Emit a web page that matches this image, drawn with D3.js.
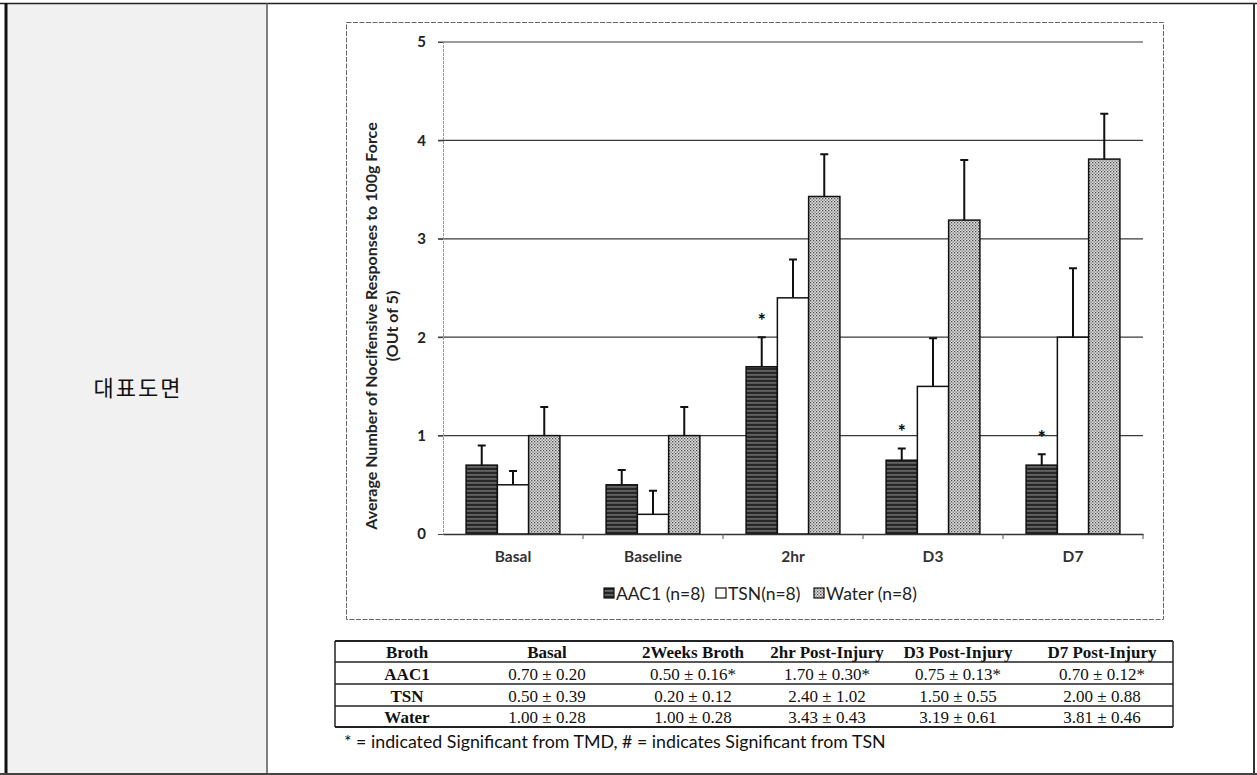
<!DOCTYPE html>
<html><head><meta charset="utf-8">
<script src="https://cdn.jsdelivr.net/npm/d3@7"></script>
<style>html,body{margin:0;padding:0;background:#fff;}svg{display:block;}</style>
</head><body>
<svg id="c" width="1257" height="775"></svg>
<script>
// ---- data ----
const categories = ["Basal", "Baseline", "2hr", "D3", "D7"];
const seriesNames = ["AAC1 (n=8)", "TSN(n=8)", "Water (n=8)"];
const aac1 = [0.70, 0.50, 1.70, 0.75, 0.70];
const tsn = [0.50, 0.20, 2.40, 1.50, 2.00];
const water = [1.00, 1.00, 3.43, 3.19, 3.81];
const aac1Err = [0.20, 0.15, 0.30, 0.12, 0.11];
const tsnErr = [0.14, 0.24, 0.39, 0.49, 0.70];
const waterErr = [0.29, 0.29, 0.43, 0.61, 0.46];
const aac1Significant = [false, false, true, true, true];
const yTicks = [0, 1, 2, 3, 4, 5];
const yLabelLines = ["Average Number of Nocifensive Responses to 100g Force", "(OUt of 5)"];
const sideLabel = "대표도면";
const tableHeader = ["Broth", "Basal", "2Weeks Broth", "2hr Post-Injury", "D3 Post-Injury", "D7 Post-Injury"];
const tableAAC1 = ["AAC1", "0.70 ± 0.20", "0.50 ± 0.16*", "1.70 ± 0.30*", "0.75 ± 0.13*", "0.70 ± 0.12*"];
const tableTSN = ["TSN", "0.50 ± 0.39", "0.20 ± 0.12", "2.40 ± 1.02", "1.50 ± 0.55", "2.00 ± 0.88"];
const tableWater = ["Water", "1.00 ± 0.28", "1.00 ± 0.28", "3.43 ± 0.43", "3.19 ± 0.61", "3.81 ± 0.46"];
const footnote = "* = indicated Significant from TMD, # = indicates Significant from TSN";

const series = [
  {name: seriesNames[0], values: aac1, err: aac1Err, fill: "url(#pAAC1)"},
  {name: seriesNames[1], values: tsn, err: tsnErr, fill: "#fff"},
  {name: seriesNames[2], values: water, err: waterErr, fill: "url(#pWater)"}
];

const svg = d3.select("#c");
const defs = svg.append("defs");
const p1 = defs.append("pattern").attr("id", "pAAC1").attr("patternUnits", "userSpaceOnUse")
  .attr("width", 8).attr("height", 4);
p1.append("rect").attr("width", 8).attr("height", 4).attr("fill", "#262626");
p1.append("rect").attr("y", 2.5).attr("width", 8).attr("height", 0.9).attr("fill", "#a0a0a0");
const p2 = defs.append("pattern").attr("id", "pWater").attr("patternUnits", "userSpaceOnUse")
  .attr("width", 3).attr("height", 3);
p2.append("rect").attr("width", 3).attr("height", 3).attr("fill", "#e0e0e0");
p2.append("rect").attr("x", 0).attr("y", 0).attr("width", 1.3).attr("height", 1.3).attr("fill", "#4a4a4a");
p2.append("rect").attr("x", 1.5).attr("y", 1.5).attr("width", 1.3).attr("height", 1.3).attr("fill", "#6a6a6a");

// ---- outer frame ----
svg.append("rect").attr("x", 7).attr("y", 4).attr("width", 259).attr("height", 769).attr("fill", "#f1f1f1");
svg.append("line").attr("x1", 0).attr("x2", 1257).attr("y1", 3.5).attr("y2", 3.5).attr("stroke", "#222").attr("stroke-width", 1.5);
svg.append("line").attr("x1", 6).attr("x2", 6).attr("y1", 3).attr("y2", 775).attr("stroke", "#111").attr("stroke-width", 3);
svg.append("line").attr("x1", 267).attr("x2", 267).attr("y1", 3).attr("y2", 775).attr("stroke", "#555").attr("stroke-width", 1.5);
svg.append("line").attr("x1", 1254).attr("x2", 1254).attr("y1", 3).attr("y2", 775).attr("stroke", "#333").attr("stroke-width", 2);
svg.append("line").attr("x1", 0).attr("x2", 1257).attr("y1", 774).attr("y2", 774).attr("stroke", "#444").attr("stroke-width", 2);

svg.append("text").attr("x", 138).attr("y", 386).attr("text-anchor", "middle").attr("dominant-baseline", "central")
  .attr("font-family", "'Noto Sans CJK KR'").attr("font-size", 22).attr("letter-spacing", 2)
  .attr("fill", "#111").text(sideLabel);

// ---- chart box ----
svg.append("rect").attr("x", 346.5).attr("y", 22.5).attr("width", 817).attr("height", 597)
  .attr("fill", "none").attr("stroke", "#666").attr("stroke-width", 1).attr("stroke-dasharray", "5 1.5");

const plotL = 443, plotR = 1143, plotT = 42, plotB = 534;
const y = d3.scaleLinear().domain([0, 5]).range([plotB, plotT]);
const x = d3.scaleBand().domain(categories).range([plotL, plotR]).paddingInner(0.33).paddingOuter(0.165);
const xs = d3.scaleBand().domain(seriesNames).range([0, x.bandwidth()]);

// gridlines
svg.append("g").selectAll("line").data(yTicks.filter(t => t > 0)).join("line")
  .attr("x1", plotL - 5).attr("x2", plotR).attr("y1", d => y(d)).attr("y2", d => y(d))
  .attr("stroke", "#3a3a3a").attr("stroke-width", 1.2);
// y axis
const yAxis = d3.axisLeft(y).tickValues(yTicks).tickFormat(d3.format("d")).tickSize(5).tickPadding(12);
const ya = svg.append("g").attr("transform", `translate(${plotL},0)`).call(yAxis);
ya.select(".domain").attr("stroke", "#999").attr("stroke-dasharray", "3 1");
ya.selectAll(".tick line").attr("stroke", "#444");
ya.selectAll("text").attr("font-family", "Lato").attr("font-weight", 700).attr("font-size", 15).attr("fill", "#222");

// y label
const yl = svg.append("text").attr("transform", `translate(377,326) rotate(-90)`)
  .attr("text-anchor", "middle").attr("font-family", "Lato").attr("font-weight", 700)
  .attr("font-size", 16).attr("fill", "#222");
yl.append("tspan").attr("x", 0).attr("dy", 0).text(yLabelLines[0]);
yl.append("tspan").attr("x", 0).attr("dy", 21).text(yLabelLines[1]);

// bars
const groups = svg.append("g").selectAll("g").data(series).join("g");
groups.selectAll("rect").data(s => s.values.map((v, i) => ({v, i, s}))).join("rect")
  .attr("x", d => x(categories[d.i]) + xs(d.s.name))
  .attr("y", d => y(d.v))
  .attr("width", xs.bandwidth())
  .attr("height", d => y(0) - y(d.v))
  .attr("fill", d => d.s.fill).attr("stroke", "#111").attr("stroke-width", 1.5);

// error bars
const eb = svg.append("g").selectAll("g").data(series).join("g");
eb.selectAll("path").data(s => s.values.map((v, i) => ({v, e: s.err[i], i, s}))).join("path")
  .attr("d", d => {
    const cx = x(categories[d.i]) + xs(d.s.name) + xs.bandwidth() / 2;
    const y0 = y(d.v), y1 = y(d.v + d.e);
    return `M${cx},${y0}V${y1}M${cx - 4},${y1}H${cx + 4}`;
  })
  .attr("fill", "none").attr("stroke", "#111").attr("stroke-width", 2);

// significance asterisks
svg.append("g").selectAll("text").data(aac1.map((v, i) => ({v, i})).filter(d => aac1Significant[d.i])).join("text")
  .attr("x", d => x(categories[d.i]) + xs(seriesNames[0]) + xs.bandwidth() / 2)
  .attr("y", d => y(d.v + aac1Err[d.i]) - 10)
  .attr("text-anchor", "middle").attr("font-family", "Lato").attr("font-weight", 900)
  .attr("font-size", 19).attr("fill", "#111").text("*");

// x axis
const xAxis = d3.axisBottom(x).tickSize(0).tickPadding(17);
const xa = svg.append("g").attr("transform", `translate(0,${plotB})`).call(xAxis);
xa.select(".domain").attr("stroke", "#333").attr("stroke-width", 1.5);
xa.selectAll("text").attr("font-family", "Lato").attr("font-weight", 700).attr("font-size", 15.5).attr("fill", "#333");
svg.append("g").selectAll("line").data(categories.slice(1).concat(["end"])).join("line")
  .attr("x1", (d, i) => plotL + x.step() * (i + 1)).attr("x2", (d, i) => plotL + x.step() * (i + 1))
  .attr("y1", plotB).attr("y2", plotB + 5).attr("stroke", "#555").attr("stroke-width", 1);

// legend
const legendItems = [{x: 604, s: series[0]}, {x: 716, s: series[1]}, {x: 814, s: series[2]}];
const lg = svg.append("g").selectAll("g").data(legendItems).join("g")
  .attr("transform", d => `translate(${d.x},588)`);
lg.append("rect").attr("width", 10).attr("height", 10).attr("fill", d => d.s.fill).attr("stroke", "#111").attr("stroke-width", 1.2);
lg.append("text").attr("x", 12).attr("y", 5).attr("dominant-baseline", "central")
  .attr("font-family", "Lato").attr("font-size", 17.5).attr("fill", "#222").text(d => d.s.name);

// ---- table ----
const colX = [407, 547, 693, 827, 958, 1102];
const rowLines = [641, 662, 684, 706, 727];
const rows = [tableHeader, tableAAC1, tableTSN, tableWater];
const tg = svg.append("g");
tg.selectAll("line.h").data(rowLines).join("line").attr("class", "h")
  .attr("x1", 335).attr("x2", 1173).attr("y1", d => d).attr("y2", d => d)
  .attr("stroke", "#222").attr("stroke-width", d => (d === 641 || d === 727) ? 1.8 : 1.3);
tg.selectAll("line.v").data([335, 1173]).join("line").attr("class", "v")
  .attr("x1", d => d).attr("x2", d => d).attr("y1", 641).attr("y2", 727)
  .attr("stroke", "#222").attr("stroke-width", 1.5);
rows.forEach((r, ri) => {
  tg.append("g").selectAll("text").data(r).join("text")
    .attr("x", (d, ci) => colX[ci])
    .attr("y", (rowLines[ri] + rowLines[ri + 1]) / 2 + 1)
    .attr("text-anchor", "middle").attr("dominant-baseline", "central")
    .attr("font-family", "'Liberation Serif'").attr("font-size", 17)
    .attr("font-weight", (d, ci) => (ri === 0 || ci === 0) ? 700 : 400)
    .attr("fill", "#111").text(d => d);
});
svg.append("text").attr("x", 344).attr("y", 741).attr("dominant-baseline", "central")
  .attr("font-family", "Lato").attr("font-size", 17.8).attr("fill", "#111").text(footnote);
</script>
</body></html>
